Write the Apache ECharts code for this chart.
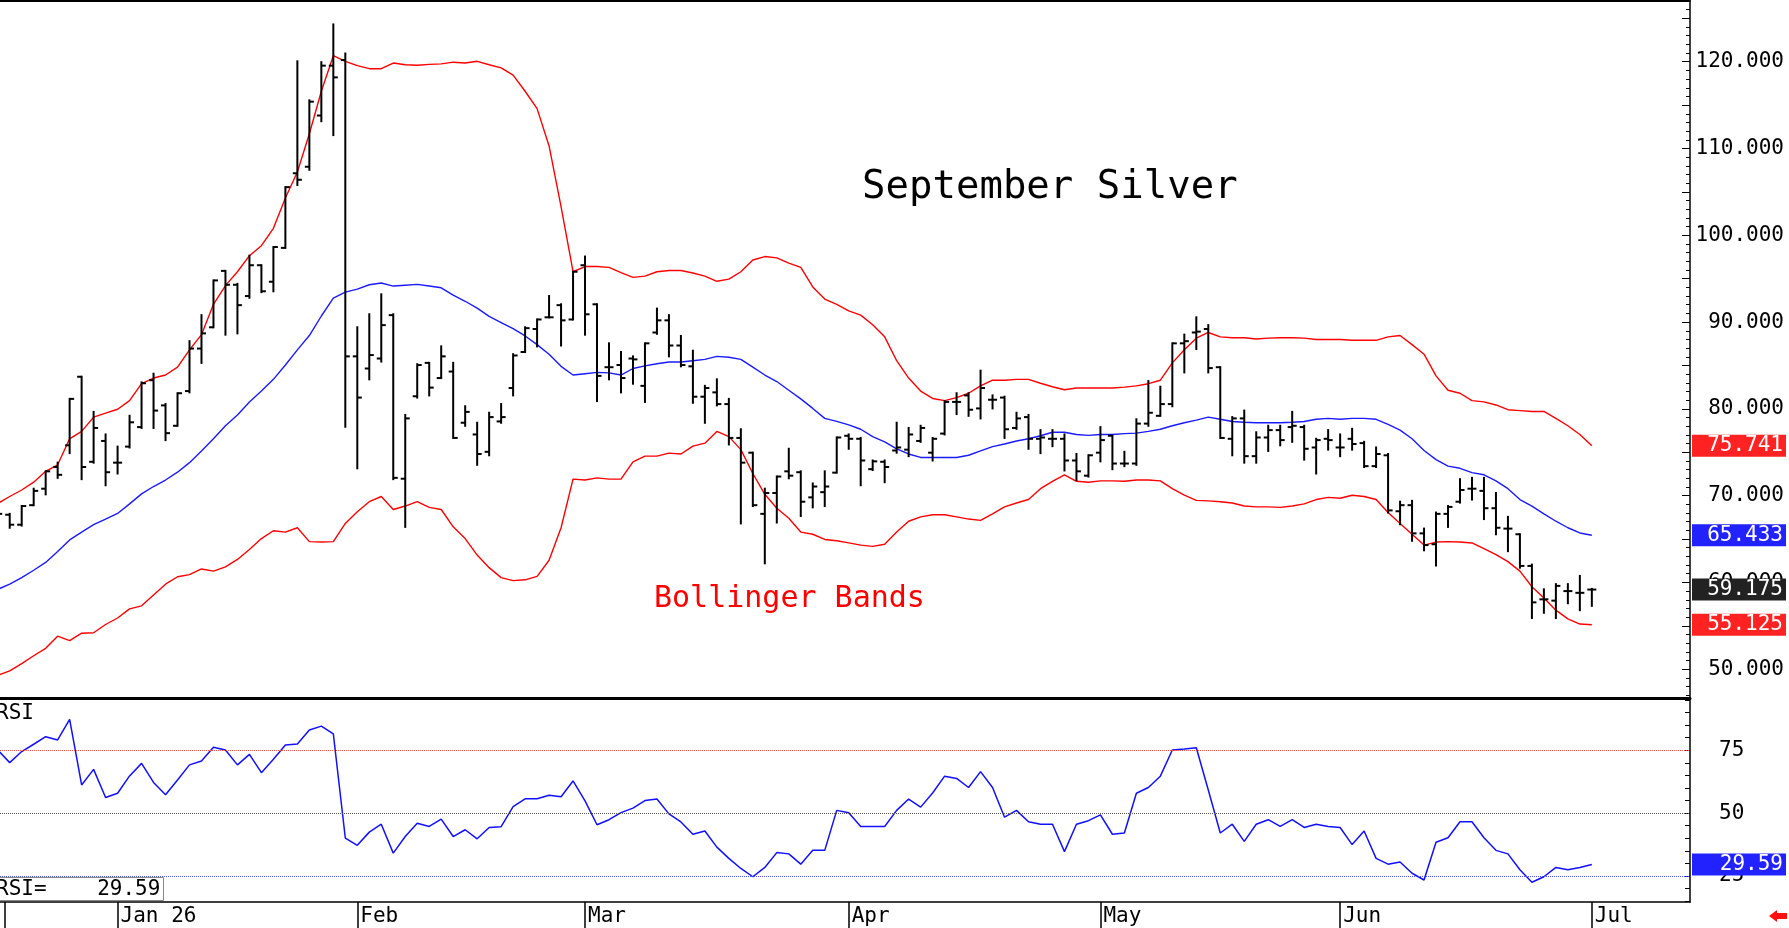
<!DOCTYPE html>
<html><head><meta charset="utf-8">
<script src="https://cdn.jsdelivr.net/npm/echarts@6/dist/echarts.min.js"></script>
<style>html,body{margin:0;padding:0;background:#fff;}#c{width:1789px;height:928px;}</style>
</head><body><div id="c"></div>
<script>
// trading-day index of the first entry (0 = first session of Jan 2026)
const startK = -10;
const opens = [
 67.5,67.8,66.65,68.9,70.8,73.3,75.8,83.7,73.9,76.3,
 73.8,75.65,77.9,83.3,80.4,78.05,82.05,86.95,89.4,95.9,
 94.3,93.0,96.55,94.65,98.55,107.15,107.9,113.8,119.55,120.2,
 86.05,84.65,85.8,90.8,71.95,81.45,85.3,83.55,84.3,78.4,
 77.05,75.05,78.55,82.4,86.55,89.2,90.55,91.95,90.3,96.55,
 92.05,84.8,85.05,85.8,82.65,88.8,90.2,87.3,84.9,81.4,
 81.9,80.55,76.65,74.95,67.9,70.3,72.8,72.7,69.8,70.4,
 72.65,76.9,76.55,73.05,73.9,75.2,75.3,76.3,74.95,77.15,
 80.8,81.55,80.05,81.05,81.3,77.8,79.05,76.55,76.55,76.55,
 74.05,72.3,74.95,76.9,73.7,73.7,78.3,79.2,80.55,87.55,
 88.8,89.2,84.8,76.55,78.9,74.55,76.7,77.55,77.9,77.9,
 75.55,76.55,75.55,76.55,76.05,73.4,74.65,68.2,68.9,65.65,
 64.4,67.9,69.3,70.8,70.55,68.55,66.2,65.55,61.9,58.05,
 57.9,59.0,58.8,59.175];
const highs = [
 68.3,67.9,68.8,70.8,72.8,73.8,81.15,83.7,79.65,77.05,
 75.65,79.2,83.05,84.05,80.55,81.8,87.8,90.8,94.8,95.9,
 94.4,97.65,96.55,98.65,105.55,120.05,115.55,119.95,124.3,120.95,
 89.4,90.9,93.2,90.9,79.3,85.15,85.3,87.2,85.3,80.3,
 78.4,79.55,80.55,86.3,89.4,90.3,93.0,92.05,95.8,97.55,
 92.05,87.55,86.55,86.05,87.55,91.55,90.8,88.4,86.7,82.65,
 83.4,81.15,77.65,74.95,70.8,72.2,75.4,72.8,71.4,72.8,
 76.7,77.05,76.65,74.05,74.05,78.4,77.8,78.05,76.65,80.9,
 81.8,81.8,84.4,81.55,81.4,79.55,79.3,77.55,77.55,77.05,
 74.8,74.65,77.9,76.9,75.05,78.8,83.2,82.55,87.55,88.55,
 90.55,89.65,84.8,79.05,79.8,77.3,78.05,78.05,79.65,78.05,
 76.55,77.55,77.05,77.7,76.2,75.55,74.8,69.3,69.4,66.2,
 68.05,68.8,71.9,72.05,72.05,70.3,67.55,65.55,62.05,59.2,
 59.8,59.8,60.75,59.25];
const lows = [
 66.7,66.3,66.55,68.9,70.15,72.05,74.9,71.9,73.8,71.2,
 72.55,75.55,77.8,77.8,76.4,78.05,81.9,85.3,89.4,88.55,
 88.7,92.8,93.45,93.55,98.55,105.8,107.55,113.15,111.55,77.95,
 73.15,83.4,85.45,71.9,66.4,81.3,81.55,83.55,76.65,78.05,
 73.55,74.65,78.4,81.55,86.55,87.2,90.55,87.3,90.3,88.55,
 80.9,83.4,81.9,82.9,80.8,88.65,86.05,84.9,80.7,78.4,
 80.4,75.9,66.8,68.8,62.2,66.9,72.0,67.65,68.65,68.8,
 72.65,75.4,71.2,72.95,71.55,74.95,74.55,76.2,74.05,77.05,
 79.4,79.2,78.9,80.05,76.65,77.7,75.4,74.9,75.7,72.9,
 71.8,72.2,73.95,73.05,73.4,73.55,78.05,79.2,80.3,84.2,
 86.9,84.2,76.65,74.65,73.8,73.8,75.15,75.8,76.2,74.15,
 72.55,75.3,74.55,75.3,73.3,73.3,68.05,66.7,64.8,63.7,
 61.95,66.4,69.2,69.55,67.3,65.55,63.6,61.7,55.9,56.5,
 55.9,57.6,56.8,57.3];
const closes = [
 67.9,66.65,68.8,70.55,72.8,72.4,81.15,73.3,77.8,72.7,
 73.8,78.45,82.95,79.8,77.2,81.8,86.95,88.7,94.8,94.3,
 91.95,96.55,93.55,98.65,105.55,106.4,115.4,119.55,118.2,86.05,
 81.3,86.2,89.65,72.05,78.9,85.05,82.45,86.05,76.65,79.65,
 74.8,79.05,79.05,86.15,89.3,90.3,90.55,90.2,95.8,90.9,
 83.8,84.8,83.55,85.7,87.55,90.2,87.3,85.05,81.4,82.4,
 80.55,76.65,73.8,68.9,70.3,72.2,72.3,69.3,71.05,71.05,
 76.7,76.55,74.05,73.95,73.3,75.55,77.05,77.8,76.55,80.8,
 80.8,79.9,82.4,81.05,77.65,78.9,76.55,76.7,76.55,74.05,
 72.8,74.65,76.4,73.7,73.7,78.3,79.55,80.55,87.55,87.8,
 88.9,84.7,76.65,78.9,74.55,76.7,77.55,76.4,78.05,75.4,
 76.4,76.4,75.55,75.95,73.4,74.8,68.3,68.9,65.65,64.3,
 67.9,68.7,70.65,70.8,68.55,66.3,66.2,61.9,57.7,58.05,
 59.6,59.0,58.8,59.175];
const bbUpper = [
 69.1,69.9,70.65,71.55,72.8,73.55,76.55,77.4,79.05,79.5,
 79.95,80.95,82.9,83.55,83.9,84.8,86.8,88.55,92.05,94.2,
 95.8,97.65,98.8,100.8,104.3,107.3,111.7,116.6,120.7,120.05,
 119.55,119.2,119.2,119.85,119.65,119.6,119.7,119.75,119.95,119.85,
 120.05,119.65,119.3,118.45,116.6,114.6,110.3,103.3,95.8,96.4,
 96.4,96.3,95.7,95.15,95.3,95.8,95.95,95.95,95.65,95.3,
 94.7,94.95,95.8,97.15,97.55,97.4,96.8,96.3,94.05,92.65,
 92.05,91.3,90.8,89.7,88.3,85.55,83.55,82.05,81.2,80.95,
 81.3,81.8,82.65,83.3,83.3,83.4,83.4,82.95,82.55,82.2,
 82.4,82.4,82.4,82.4,82.5,82.65,82.9,83.3,85.3,86.8,
 88.15,88.8,88.3,88.2,88.2,88.05,88.15,88.2,88.2,88.15,
 88.0,88.0,88.0,87.9,87.9,87.9,88.3,88.45,87.4,86.3,
 83.8,82.15,81.8,80.95,80.8,80.45,79.9,79.8,79.7,79.7,
 78.9,78.05,77.05,75.741];
const bbMid = [
 59.2,59.8,60.55,61.4,62.3,63.55,64.9,65.8,66.65,67.3,
 67.95,69.05,70.2,71.05,71.8,72.7,73.8,75.15,76.55,78.05,
 79.3,80.8,82.05,83.4,85.05,86.8,88.45,90.7,92.75,93.45,
 93.8,94.3,94.5,94.15,94.25,94.35,94.15,93.95,93.1,92.4,
 91.6,90.65,89.95,89.25,88.4,87.4,86.3,84.9,83.9,84.05,
 84.2,84.15,83.9,84.65,84.95,85.2,85.4,85.4,85.55,85.7,
 86.05,85.95,85.7,84.8,83.9,83.15,82.15,81.15,80.05,78.9,
 78.55,78.15,77.65,76.8,76.2,75.4,74.8,74.4,74.4,74.4,
 74.4,74.65,75.15,75.65,75.95,76.3,76.55,76.9,77.3,77.3,
 77.05,76.95,77.05,77.05,77.15,77.2,77.4,77.65,78.05,78.4,
 78.7,79.05,78.8,78.55,78.45,78.4,78.4,78.4,78.45,78.55,
 78.8,78.9,78.8,78.9,78.9,78.8,78.2,77.55,76.55,75.2,
 74.15,73.4,73.15,72.65,72.4,71.7,70.8,69.55,68.8,67.9,
 67.05,66.3,65.7,65.433];
const bbLower = [
 49.3,49.8,50.65,51.55,52.4,53.8,53.3,54.15,54.2,55.15,
 55.9,56.95,57.3,58.55,59.8,60.65,60.9,61.55,61.3,61.8,
 62.65,63.8,65.05,65.95,65.8,66.3,64.7,64.65,64.7,66.8,
 68.15,69.3,69.9,68.4,68.8,69.3,68.65,68.4,66.4,65.05,
 63.15,61.7,60.55,60.2,60.3,60.7,62.55,66.3,71.9,71.8,
 72.05,71.9,71.9,73.9,74.55,74.55,74.9,74.8,75.7,76.05,
 77.4,76.8,75.3,72.55,70.15,68.55,67.4,65.8,65.55,64.95,
 64.8,64.55,64.3,64.15,64.4,65.8,67.05,67.55,67.8,67.8,
 67.55,67.3,67.15,67.9,68.7,69.15,69.55,70.8,71.65,72.4,
 71.65,71.55,71.7,71.7,71.65,71.8,71.8,71.7,70.8,70.05,
 69.45,69.4,69.3,69.15,68.8,68.7,68.7,68.65,68.8,69.05,
 69.55,69.8,69.7,70.05,69.9,69.55,68.05,66.8,65.55,64.3,
 64.65,64.7,64.65,64.55,63.9,63.2,62.4,61.3,59.5,58.2,
 56.8,55.8,55.2,55.125];
const rsi = [
 75.1,70.1,74.5,77.4,80.4,79.1,87.3,61.2,67.4,56.2,
 57.9,64.8,69.8,62.2,57.3,63.2,69.2,70.75,76.2,75.1,
 69.2,73.4,66.1,71.4,77.1,77.5,83.1,84.6,81.5,40.1,
 37.2,42.45,45.6,34.1,40.7,46.0,44.7,47.6,40.7,43.4,
 39.8,44.3,44.6,52.6,55.7,55.7,57.1,56.5,62.8,54.9,
 45.4,47.4,50.2,52.0,55.0,55.6,49.7,46.5,41.6,42.9,
 36.5,32.0,28.0,24.7,28.4,34.3,33.8,29.7,35.2,35.2,
 51.1,50.2,44.7,44.7,44.7,51.1,55.6,52.4,58.0,64.7,
 63.8,60.2,66.5,60.2,48.4,51.1,46.6,45.6,45.6,34.7,
 45.6,47.0,49.3,41.6,42.1,57.9,60.2,64.7,75.1,75.5,
 76.0,59.2,42.1,45.6,38.8,45.6,47.4,44.7,47.4,44.3,
 45.6,44.7,44.3,37.5,42.9,32.0,29.7,30.6,26.1,23.4,
 38.4,40.2,46.6,46.6,40.2,35.2,33.8,27.5,22.5,24.7,
 28.4,27.5,28.4,29.59];

// axis annotations
const monthTicks = [-9.39, 0, 20, 39, 61, 82, 102, 123];
const monthLabelPos = [0, 20, 39, 61, 82, 102, 123];
const monthLabels = ['Jan 26', 'Feb', 'Mar', 'Apr', 'May', 'Jun', 'Jul'];
const priceLabels = [50, 60, 70, 80, 90, 100, 110, 120];
const rsiLabels = [25, 50, 75];
const lastBoxes = [75.741, 65.433, 59.175, 55.125];
const lastBoxStyles = ['r', 'b', 'k', 'r'];
const rsiLast = 29.59;

const FONT = "'DejaVu Sans Mono', monospace";
const X_MIN = -9.81, X_MAX = 131.19;
const P_MIN = 46.68, P_MAX = 127.0;
const R_MIN = 14.66, R_MAX = 95.4;

const days = opens.map((_, i) => startK + i);
const ohlc = days.map((d, i) => [d, opens[i], highs[i], lows[i], closes[i]]);
const pair = arr => days.map((d, i) => [d, arr[i]]);

const priceMinor = [];
for (let v = 47; v <= 126; v++) priceMinor.push(v);
const priceMajor = [];
for (let v = 50; v <= 125; v += 5) priceMajor.push(v);
const rsiMinor = [];
for (let v = 15; v <= 95; v += 5) rsiMinor.push(v);

const chart = echarts.init(document.getElementById('c'), null, {renderer: 'canvas'});
const boxStyle = bg => ({backgroundColor: bg, color: '#fff', width: 88, align: 'right', padding: [0, 3, 0, 3], height: 22, lineHeight: 22, fontFamily: FONT, fontSize: 21});
const boxRich = {r: boxStyle('#ff2222'), b: boxStyle('#2222ff'), k: boxStyle('#222222')};

chart.setOption({
  animation: false,
  backgroundColor: '#fff',
  title: [
    {text: 'September Silver', left: 862, top: 168, padding: 0,
     textStyle: {fontFamily: FONT, fontSize: 39, fontWeight: 'normal', color: '#000'}},
    {text: 'Bollinger Bands', left: 654, top: 584, padding: 0,
     textStyle: {fontFamily: FONT, fontSize: 30, fontWeight: 'normal', color: '#ff0000'}},
    {text: 'RSI', left: -4, top: 703, padding: 0,
     textStyle: {fontFamily: FONT, fontSize: 21, fontWeight: 'normal', color: '#000'}},
    {text: 'RSI=    ' + rsiLast.toFixed(2), left: -5, top: 877, padding: [2, 3, 1, 1],
     backgroundColor: '#fff', borderColor: '#888', borderWidth: 1,
     textStyle: {fontFamily: FONT, fontSize: 21, fontWeight: 'normal', color: '#000', lineHeight: 21}}
  ],
  grid: [
    {left: 0, top: 1, width: 1692, height: 697},
    {left: 0, top: 699, width: 1692, height: 203}
  ],
  xAxis: [
    {type: 'value', gridIndex: 0, min: X_MIN, max: X_MAX, position: 'bottom',
     axisLine: {show: true, onZero: false, lineStyle: {color: '#000', width: 3}}, axisTick: {show: false},
     axisLabel: {show: false}, splitLine: {show: false}},
    {type: 'value', gridIndex: 0, min: X_MIN, max: X_MAX, position: 'top',
     axisLine: {show: true, onZero: false, lineStyle: {color: '#000', width: 2}}, axisTick: {show: false},
     axisLabel: {show: false}, splitLine: {show: false}},
    {type: 'value', gridIndex: 1, min: X_MIN, max: X_MAX, position: 'bottom',
     axisLine: {show: true, onZero: false, lineStyle: {color: '#000', width: 1.5}},
     axisTick: {show: true, customValues: monthTicks, length: 26, lineStyle: {color: '#000', width: 1.5}},
     axisLabel: {show: true, customValues: monthLabelPos, align: 'left', margin: 4, padding: [0, 0, 0, 3],
       fontFamily: FONT, fontSize: 21, color: '#000',
       formatter: v => monthLabels[monthLabelPos.indexOf(Math.round(v))] || ''},
     splitLine: {show: false}}
  ],
  yAxis: [
    {type: 'value', gridIndex: 0, min: P_MIN, max: P_MAX, position: 'right',
     axisLine: {show: true, onZero: false, lineStyle: {color: '#000', width: 1.5}},
     axisTick: {show: true, inside: true, customValues: priceMinor, length: 4, lineStyle: {color: '#000', width: 1}},
     axisLabel: {show: true, customValues: priceLabels, align: 'right', margin: 94,
       fontFamily: FONT, fontSize: 21, color: '#000', formatter: v => v.toFixed(3)},
     splitLine: {show: false}},
    {type: 'value', gridIndex: 0, min: P_MIN, max: P_MAX, position: 'right', z: 5,
     axisLine: {show: false, onZero: false},
     axisTick: {show: true, inside: true, customValues: priceMajor, length: 8, lineStyle: {color: '#000', width: 1}},
     axisLabel: {show: true, customValues: lastBoxes, align: 'left', margin: 2, rich: boxRich,
       formatter: v => {
         let i = 0, best = 1e9;
         lastBoxes.forEach((b, j) => { if (Math.abs(b - v) < best) { best = Math.abs(b - v); i = j; } });
         return '{' + lastBoxStyles[i] + '|' + lastBoxes[i].toFixed(3) + '}';
       }},
     splitLine: {show: false}},
    {type: 'value', gridIndex: 1, min: R_MIN, max: R_MAX, position: 'right',
     axisLine: {show: true, onZero: false, lineStyle: {color: '#000', width: 1.5}},
     axisTick: {show: true, inside: true, customValues: rsiMinor, length: 5, lineStyle: {color: '#000', width: 1}},
     axisLabel: {show: true, customValues: rsiLabels, align: 'left', margin: 29,
       fontFamily: FONT, fontSize: 21, color: '#000', formatter: v => String(Math.round(v))},
     splitLine: {show: false}},
    {type: 'value', gridIndex: 1, min: R_MIN, max: R_MAX, position: 'right', z: 5,
     axisLine: {show: false, onZero: false}, axisTick: {show: false},
     axisLabel: {show: true, customValues: [rsiLast], align: 'left', margin: 2,
       rich: {b: boxStyle('#2222ff')},
       formatter: () => '{b|' + rsiLast.toFixed(2) + '}'},
     splitLine: {show: false}}
  ],
  graphic: [
    {type: 'polygon', shape: {points: [[1769, 916], [1777, 910], [1777, 913], [1787, 913], [1787, 919], [1777, 919], [1777, 922]]},
     style: {fill: '#ff1010'}}
  ],
  series: [
    {name: 'upper', type: 'line', xAxisIndex: 0, yAxisIndex: 0, data: pair(bbUpper), showSymbol: false, symbol: 'none',
     lineStyle: {color: '#ff0000', width: 1.4}, silent: true, z: 2},
    {name: 'mid', type: 'line', xAxisIndex: 0, yAxisIndex: 0, data: pair(bbMid), showSymbol: false, symbol: 'none',
     lineStyle: {color: '#1a1aff', width: 1.4}, silent: true, z: 2},
    {name: 'lower', type: 'line', xAxisIndex: 0, yAxisIndex: 0, data: pair(bbLower), showSymbol: false, symbol: 'none',
     lineStyle: {color: '#ff0000', width: 1.4}, silent: true, z: 2},
    {name: 'ohlc', type: 'custom', xAxisIndex: 0, yAxisIndex: 0, data: ohlc, clip: true, z: 3,
     renderItem: (params, api) => {
       const x = api.value(0);
       const o = api.coord([x, api.value(1)]);
       const h = api.coord([x, api.value(2)]);
       const l = api.coord([x, api.value(3)]);
       const c = api.coord([x, api.value(4)]);
       const t = 4.5;
       const st = {stroke: '#000', lineWidth: 2};
       return {type: 'group', children: [
         {type: 'line', shape: {x1: h[0], y1: h[1] - 1, x2: l[0], y2: l[1] + 1}, style: st},
         {type: 'line', shape: {x1: o[0] - t, y1: o[1], x2: o[0], y2: o[1]}, style: st},
         {type: 'line', shape: {x1: c[0], y1: c[1], x2: c[0] + t, y2: c[1]}, style: st}
       ]};
     }},
    {name: 'rsi', type: 'line', xAxisIndex: 2, yAxisIndex: 2, data: pair(rsi), showSymbol: false, symbol: 'none',
     lineStyle: {color: '#1010ff', width: 1.5}, silent: true, z: 3,
     markLine: {silent: true, symbol: 'none', label: {show: false},
       data: [
         {yAxis: 75, lineStyle: {color: '#ff5050', type: 'dotted', width: 1}},
         {yAxis: 50, lineStyle: {color: '#555', type: 'dotted', width: 1}},
         {yAxis: 25, lineStyle: {color: '#5050ff', type: 'dotted', width: 1}}
       ]}}
  ]
});
</script>
</body></html>
